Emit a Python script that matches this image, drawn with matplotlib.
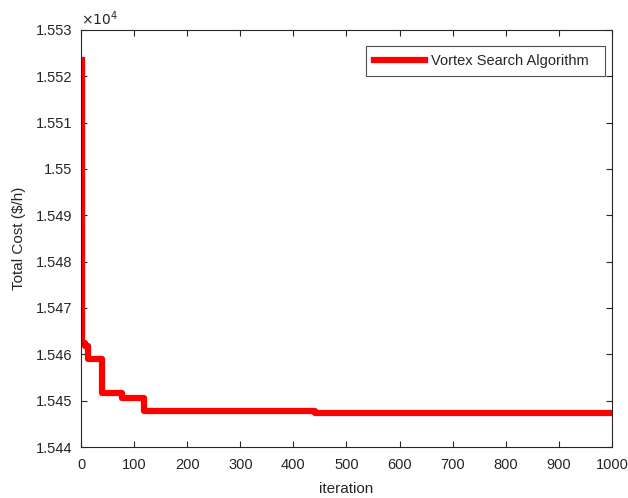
import numpy as np
import matplotlib.pyplot as plt

# convergence curve of the vortex search algorithm (step values)
iters = [1, 2, 8, 14, 40, 77, 119, 440, 1000]
cost = [15523.6, 15462.5, 15461.8, 15458.9, 15451.6, 15450.5, 15447.8, 15447.3, 15447.3]

xticks = np.arange(0, 1001, 100)
yticks = [1.544, 1.545, 1.546, 1.547, 1.548, 1.549, 1.55, 1.551, 1.552, 1.553]
ytick_labels = ['1.544', '1.545', '1.546', '1.547', '1.548', '1.549', '1.55', '1.551', '1.552', '1.553']

plt.rcParams['font.family'] = ['Liberation Sans', 'DejaVu Sans']
txt = '#262626'

fig = plt.figure(figsize=(6.28, 4.98), dpi=100)
ax = fig.add_axes([0.129, 0.1024, 0.8455, 0.8374])

ax.plot(iters, np.array(cost) / 1e4, color='#ff0000', lw=4.5, drawstyle='steps-post',
        label='Vortex Search Algorithm  ')

ax.set_xlim(0, 1000)
ax.set_ylim(1.544, 1.553)
ax.set_xticks(xticks)
ax.set_yticks(yticks)
ax.set_yticklabels(ytick_labels)
ax.tick_params(direction='in', length=4, colors=txt, labelsize=10.5, top=True, right=True,
               labeltop=False, labelright=False)
ax.tick_params(axis='x', pad=8)
ax.tick_params(axis='y', pad=6)
for s in ax.spines.values():
    s.set_color(txt)
    s.set_linewidth(0.8)

ax.set_xlabel('iteration', fontsize=11, color=txt, labelpad=7)
ax.set_ylabel('Total Cost (\\$/h)', fontsize=11, color=txt, labelpad=7)
ax.text(0.0, 1.005, r'$\times10^{4}$', transform=ax.transAxes, fontsize=10, color=txt,
        ha='left', va='bottom')

leg = ax.legend(loc='upper right', bbox_to_anchor=(0.987, 0.962), borderaxespad=0,
                fontsize=10.5, frameon=True, fancybox=False,
                handlelength=3.5, handletextpad=0.4, borderpad=0.55)
leg.get_frame().set_edgecolor(txt)
leg.get_frame().set_linewidth(0.8)
for t in leg.get_texts():
    t.set_color(txt)

fig.savefig('out.png', dpi=100)
